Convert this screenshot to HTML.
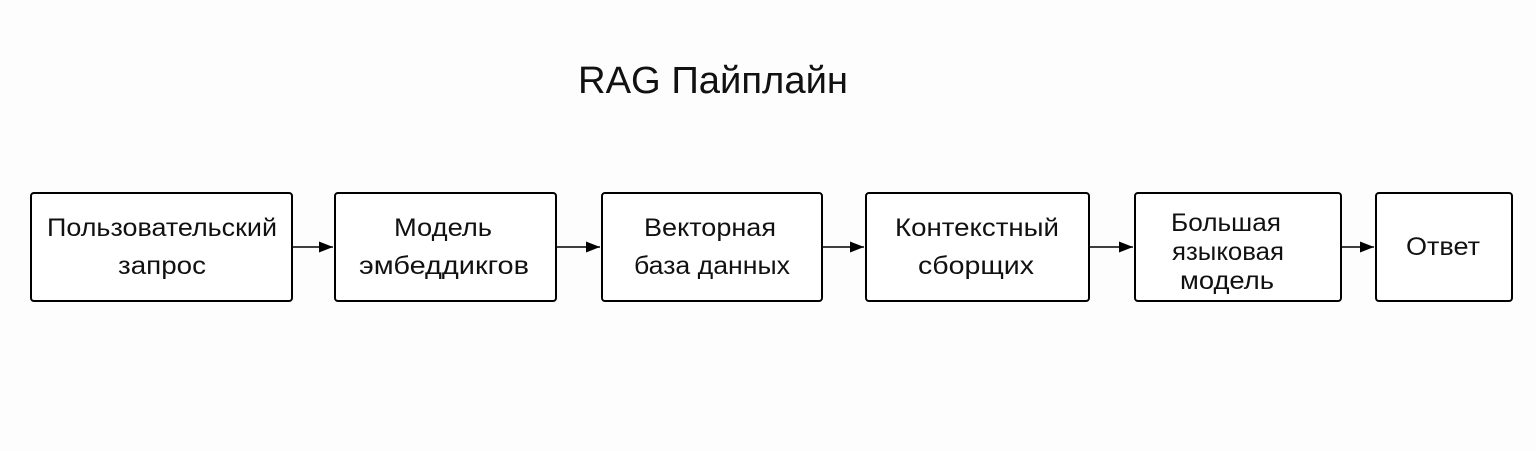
<!DOCTYPE html>
<html><head><meta charset="utf-8"><style>body{margin:0;background:#fdfdfd}</style></head><body>
<svg width="1536" height="446" xmlns="http://www.w3.org/2000/svg" font-family="'Liberation Sans','DejaVu Sans',sans-serif" fill="#111">
<defs><marker id="a" markerWidth="14" markerHeight="11" refX="14" refY="5.5" orient="auto" markerUnits="userSpaceOnUse"><path d="M0,0L14,5.5L0,11z" fill="#000"/></marker></defs>
<text x="713" y="93" font-size="38" text-anchor="middle" textLength="270" lengthAdjust="spacingAndGlyphs">RAG Пайплайн</text>
<g fill="#fff" stroke="#000" stroke-width="2">
<rect x="31" y="193" width="261" height="108" rx="3"/>
<rect x="335" y="193" width="221" height="108" rx="3"/>
<rect x="602" y="193" width="220" height="108" rx="3"/>
<rect x="866" y="193" width="223" height="108" rx="3"/>
<rect x="1135" y="193" width="206" height="108" rx="3"/>
<rect x="1376" y="193" width="136" height="108" rx="3"/>
<g stroke-width="1.5" marker-end="url(#a)">
<line x1="292" y1="247" x2="333" y2="247"/>
<line x1="556" y1="247" x2="600" y2="247"/>
<line x1="822" y1="247" x2="864" y2="247"/>
<line x1="1089" y1="247" x2="1133" y2="247"/>
<line x1="1341" y1="247" x2="1374" y2="247"/>
</g></g>
<g font-size="25" text-anchor="middle" lengthAdjust="spacingAndGlyphs">
<text x="162" y="236" textLength="230" lengthAdjust="spacingAndGlyphs">Пользовательский</text><text x="162" y="274" textLength="88" lengthAdjust="spacingAndGlyphs">запрос</text>
<text x="443" y="236" textLength="98" lengthAdjust="spacingAndGlyphs">Модель</text><text x="444" y="274" textLength="170" lengthAdjust="spacingAndGlyphs">эмбеддикгов</text>
<text x="710" y="236" textLength="132" lengthAdjust="spacingAndGlyphs">Векторная</text><text x="712" y="274" textLength="156" lengthAdjust="spacingAndGlyphs">база данных</text>
<text x="977" y="236" textLength="164" lengthAdjust="spacingAndGlyphs">Контекстный</text><text x="976" y="274" textLength="116" lengthAdjust="spacingAndGlyphs">сборщих</text>
<text x="1226" y="231" textLength="110" lengthAdjust="spacingAndGlyphs">Большая</text><text x="1228" y="260" textLength="112" lengthAdjust="spacingAndGlyphs">языковая</text><text x="1227" y="289" textLength="94" lengthAdjust="spacingAndGlyphs">модель</text>
<text x="1443" y="255" textLength="74" lengthAdjust="spacingAndGlyphs">Ответ</text>
</g>
</svg>
</body></html>
